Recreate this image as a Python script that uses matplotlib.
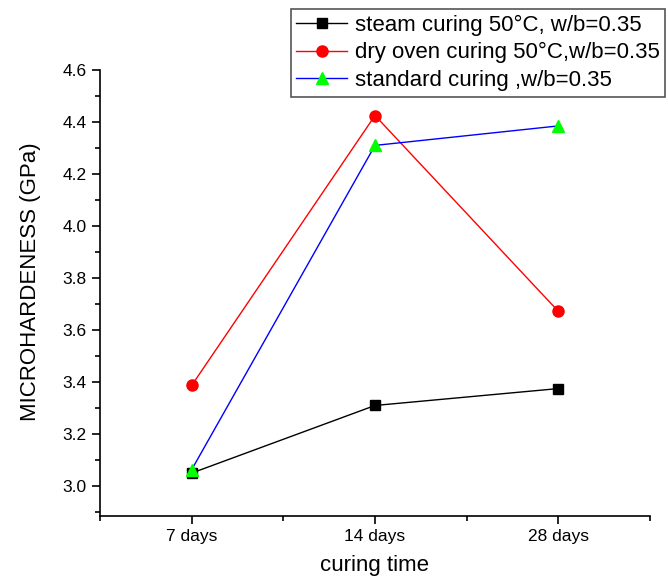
import numpy as np
import matplotlib.pyplot as plt
from matplotlib.ticker import MultipleLocator, FixedLocator

plt.rcParams['font.family'] = ['Liberation Sans', 'DejaVu Sans']

categories = ['7 days', '14 days', '28 days']
steam = [3.05, 3.31, 3.375]
dry_oven = [3.387, 4.425, 3.672]
standard = [3.063, 4.31, 4.385]
labels = ['steam curing 50°C, w/b=0.35',
          'dry oven curing 50°C,w/b=0.35',
          'standard curing ,w/b=0.35']

fig = plt.figure(figsize=(6.68, 5.79), dpi=100)
ax = fig.add_axes([100/668, 63/579, 550/668, 446/579])

x = np.arange(len(categories))
ax.plot(x, steam, color='k', lw=1, marker='s', ms=7, mfc='k', mec='k', label=labels[0])
ax.plot(x, dry_oven, color='red', lw=1, marker='o', ms=8, mfc='red', mec='red', label=labels[1])
ax.plot(x, standard, color='blue', lw=1, marker='^', ms=8, mfc='#00ff00', mec='#00ff00', label=labels[2])

ax.set_xlim(-0.5, 2.5)
ax.set_ylim(2.885, 4.6)
ax.set_xticks(x)
ax.set_xticklabels(categories)
ax.xaxis.set_minor_locator(FixedLocator([-0.5, 0.5, 1.5, 2.5]))
ax.yaxis.set_minor_locator(MultipleLocator(0.1))
ax.set_yticks(np.arange(3.0, 4.61, 0.2))
ax.set_yticklabels(['%.1f' % v for v in np.arange(3.0, 4.61, 0.2)])

for s in ['top', 'right']:
    ax.spines[s].set_visible(False)
for s in ['left', 'bottom']:
    ax.spines[s].set_linewidth(1.2)

ax.tick_params(which='major', direction='out', length=6, width=1.2, labelsize=12.5)
ax.tick_params(which='minor', direction='out', length=3.5, width=1.2)

ax.set_xlabel('curing time', fontsize=16, labelpad=8)
ax.set_ylabel('MICROHARDENESS (GPa)', fontsize=16)
ax.yaxis.set_label_coords(-0.107, 0.525)

leg = fig.legend(loc='upper right', bbox_to_anchor=(665/668, 1 - 9/579),
                 fontsize=16, handlelength=2.3, handletextpad=0.32,
                 borderpad=0.25, labelspacing=0.3, borderaxespad=0,
                 fancybox=False, framealpha=1, edgecolor='#555555')
leg.get_frame().set_linewidth(1.2)

plt.savefig('out.png', dpi=100)
